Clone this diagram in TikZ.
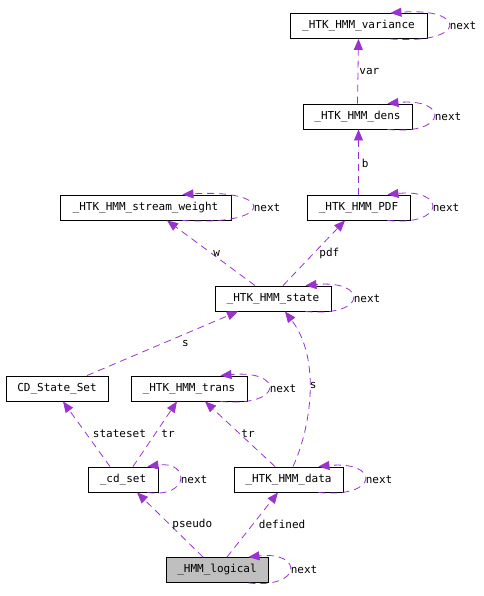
\documentclass[tikz,border=0pt]{standalone}
\usepackage{fontspec}
\setmonofont{DejaVu Sans Mono}
\usepackage{xcolor}
\usepackage{tikz}
\usetikzlibrary{arrows.meta, calc}

\definecolor{relcolor}{HTML}{9A32CD}

\begin{document}
\begin{tikzpicture}[
    x=1pt, y=-1pt,
    cls/.style={rectangle, draw, line width=0.9pt, inner sep=0pt,
                minimum height=25pt, font=\ttfamily\fontsize{11}{13}\selectfont},
    root/.style={cls, fill=black!25},
    rel/.style={-{Triangle[length=11pt, width=9pt]}, draw=relcolor,
                line width=0.8pt, dash pattern=on 7pt off 5pt},
    lbl/.style={font=\ttfamily\fontsize{11}{13}\selectfont, inner sep=1pt, text=black},
]
  \useasboundingbox (0,0) rectangle (483,596);

  \node[cls, minimum width=137pt] (variance) at (358.5,26)  {\_HTK\_HMM\_variance};
  \node[cls, minimum width=109pt] (dens)     at (357.5,116.5) {\_HTK\_HMM\_dens};
  \node[cls, minimum width=171pt] (weight)   at (145.5,207.5) {\_HTK\_HMM\_stream\_weight};
  \node[cls, minimum width=103pt] (pdf)      at (358.5,207.5) {\_HTK\_HMM\_PDF};
  \node[cls, minimum width=116pt] (state)    at (273,298.5) {\_HTK\_HMM\_state};
  \node[cls, minimum width=102pt] (stateset) at (57,388.5)  {CD\_State\_Set};
  \node[cls, minimum width=116pt] (trans)    at (189,388.5) {\_HTK\_HMM\_trans};
  \node[cls, minimum width=70pt]  (cdset)    at (123,479.5) {\_cd\_set};
  \node[cls, minimum width=109pt] (data)     at (288.5,479.5) {\_HTK\_HMM\_data};
  \node[root, minimum width=102pt] (logical) at (217,570)   {\_HMM\_logical};

  % members
  \draw[rel] (dens.north) -- (variance.south) node[lbl, pos=.5, anchor=west] {var};
  \draw[rel] (pdf.north) -- ([xshift=1pt]dens.south) node[lbl, pos=.48, anchor=west, xshift=2pt] {b};
  \draw[rel] ([xshift=-18pt]state.north) -- ([xshift=21.5pt]weight.south)
    node[lbl, pos=.5, anchor=west, xshift=1pt] {w};
  \draw[rel] ([xshift=10pt]state.north) -- ([xshift=-13.5pt]pdf.south)
    node[lbl, pos=.5, anchor=west, xshift=4pt] {pdf};
  \draw[rel] ([xshift=30pt]stateset.north) -- ([xshift=-35pt]state.south)
    node[lbl, pos=.5, xshift=23pt] {s};
  \draw[rel] ([xshift=4.5pt]data.north) .. controls (310,430) and (322,360) .. ([xshift=12pt]state.south)
    node[lbl, pos=.55, xshift=4pt] {s};
  \draw[rel] ([xshift=-13pt]cdset.north) -- ([xshift=6pt]stateset.south)
    node[lbl, pos=.5, anchor=west, xshift=5pt] {stateset};
  \draw[rel] ([xshift=10pt]cdset.north) -- ([xshift=-12pt]trans.south)
    node[lbl, pos=.5, anchor=west, xshift=5pt] {tr};
  \draw[rel] ([xshift=-13.5pt]data.north) -- ([xshift=16pt]trans.south)
    node[lbl, pos=.5, anchor=west] {tr};
  \draw[rel] ([xshift=-14pt]logical.north) -- ([xshift=14pt]cdset.south)
    node[lbl, pos=.5, anchor=west, xshift=1pt] {pseudo};
  \draw[rel] ([xshift=10pt]logical.north) -- ([xshift=-10.5pt]data.south)
    node[lbl, pos=.5, anchor=west, xshift=5pt] {defined};

  % next pointers
  \foreach \n/\o in {variance/37, dens/25, weight/49, pdf/23, state/26,
                     trans/27, cdset/11, data/25, logical/20}
    \draw[rel] ($(\n.south east)+(-\o,0)$)
      .. controls +({(\o+21)*1.333},6) and +({(\o+21)*1.333},-6) ..
      ($(\n.north east)+(-\o,0)$) node[lbl, pos=.5, anchor=west] {next};
\end{tikzpicture}
\end{document}
